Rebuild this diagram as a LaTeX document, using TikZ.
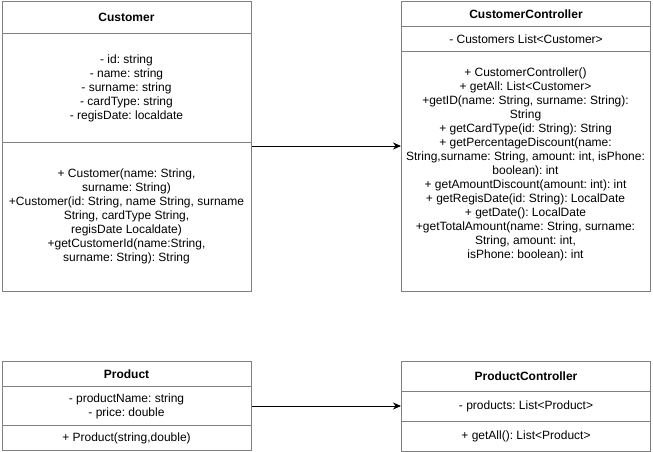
\documentclass[tikz,border=0pt]{standalone}
\usepackage{fontspec}
\setmainfont{Liberation Sans}
\usetikzlibrary{arrows.meta}
\definecolor{umlgray}{HTML}{808080}
\frenchspacing
\tikzset{
  comp/.style={draw=umlgray, line width=1pt, minimum width=249pt, inner sep=0pt,
    anchor=north west, align=center, font=\frenchspacing\fontsize{12}{14}\selectfont},
  hdr/.style={comp, font=\fontsize{12}{14}\selectfont\bfseries},
  txt/.style={inner sep=0pt, align=center, font=\frenchspacing\fontsize{12}{14}\selectfont},
  conn/.style={line width=1pt, -{Stealth[length=8pt,width=7pt]}}
}
\begin{document}
\begin{tikzpicture}[x=1pt,y=-1pt]
\useasboundingbox (0,0) rectangle (653,452);
% Customer
\node[hdr, minimum height=31.5pt] (custH) at (1.5,1.5) {Customer};
\node[comp, minimum height=109pt] (custA) at (1.5,33) {- id: string\\- name: string\\- surname: string\\- cardType: string\\- regisDate: localdate};
\node[comp, minimum height=148.5pt] (custM) at (1.5,142) {+ Customer(name: String,\\surname: String)\\+Customer(id: String, name String, surname\\String, cardType String,\\regisDate Localdate)\\+getCustomerId(name:String,\\surname: String): String};
% CustomerController
\node[hdr, minimum height=24.5pt] (ccH) at (401,1.5) {CustomerController};
\node[comp, minimum height=25.5pt] (ccA) at (401,26) {- Customers List<Customer>};
\node[comp, minimum height=239pt] (ccM) at (401,51.5) {};
\node[txt] (ccMtext) at (525.5,164.5) {+ CustomerController()\\+ getAll: List<Customer>\\+getID(name: String, surname: String):\\String\\+ getCardType(id: String): String\\+ getPercentageDiscount(name:\\String,surname: String, amount: int, isPhone:\\boolean): int\\+ getAmountDiscount(amount: int): int\\+ getRegisDate(id: String): LocalDate\\+ getDate(): LocalDate\\+getTotalAmount(name: String, surname:\\String, amount: int,\\isPhone: boolean): int};
% Product
\node[hdr, minimum height=25pt] (prodH) at (1.5,361) {Product};
\node[comp, minimum height=39pt] (prodA) at (1.5,386) {- productName: string\\- price: double};
\node[comp, minimum height=25pt] (prodM) at (1.5,425) {+ Product(string,double)};
% ProductController
\node[hdr, minimum height=30pt] (pcH) at (401,361) {ProductController};
\node[comp, minimum height=29.5pt] (pcA) at (401,391) {- products: List<Product>};
\node[comp, minimum height=30pt] (pcM) at (401,420.5) {+ getAll(): List<Product>};
% connectors
\draw[conn] ([yshift=-4pt]custM.north east) -- ([yshift=-4pt]custM.north east -| ccM.west);
\draw[conn] (prodA.east) -- (prodA.east -| pcA.west);
\end{tikzpicture}
\end{document}
